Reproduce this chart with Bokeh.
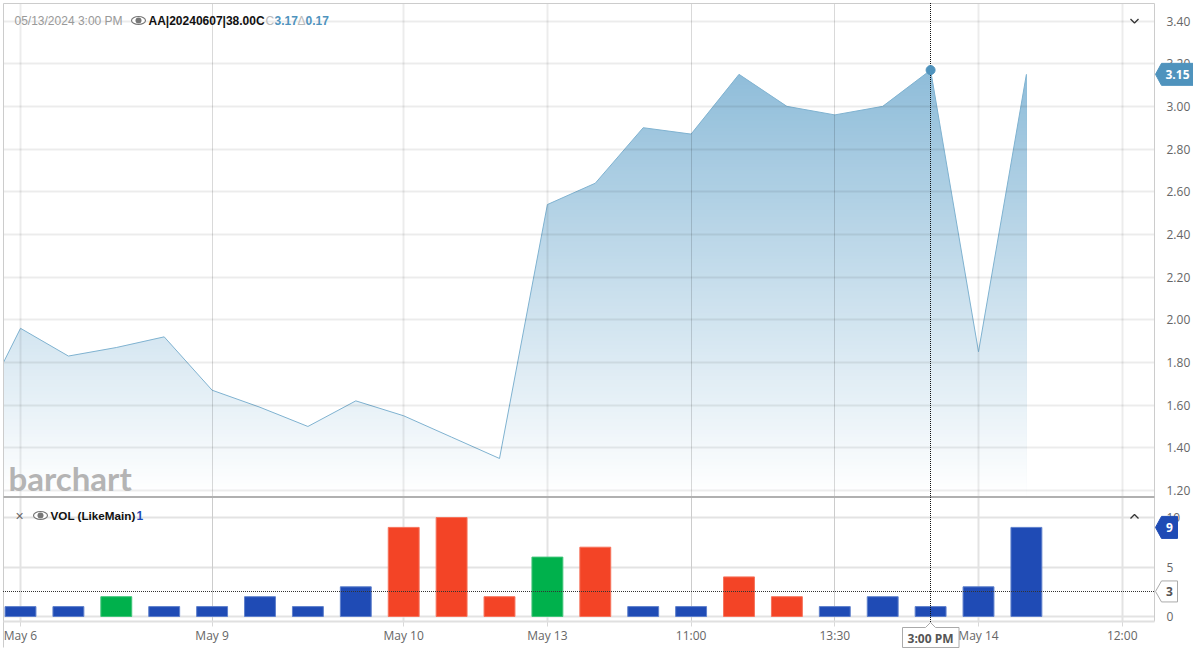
from bokeh.plotting import figure
from bokeh.layouts import column
from bokeh.embed import file_html
from bokeh.resources import INLINE
from bokeh.models import FixedTicker, Grid, Label, ColumnDataSource
import numpy as np

# ---- data -----------------------------------------------------------------
idx = list(range(-1, 22))
price = [1.51, 1.96, 1.83, 1.87, 1.92, 1.67, 1.59, 1.50, 1.62, 1.55, 1.45, 1.35,
         2.54, 2.64, 2.90, 2.87, 3.15, 3.00, 2.96, 3.00, 3.17, 1.85, 3.15]
vol_idx = list(range(0, 22))
volume = [1, 1, 2, 1, 1, 2, 1, 3, 9, 10, 2, 6, 7, 1, 1, 4, 2, 1, 2, 1, 3, 9]
vol_dir = ["b", "b", "g", "b", "b", "b", "b", "b", "r", "r", "r", "g", "r", "b", "b",
           "r", "r", "b", "b", "b", "b", "b"]
x_ticks = [0, 4, 8, 11, 14, 17, 20, 23]
x_labels = ["May 6", "May 9", "May 10", "May 13", "11:00", "13:30", "May 14", "12:00"]
price_ticks = [1.2, 1.4, 1.6, 1.8, 2.0, 2.2, 2.4, 2.6, 2.8, 3.0, 3.2, 3.4]
vol_ticks = [0, 5, 10]
cross_i = 19
cross_price = 3.17
cross_vol = 2.53
last_price = 3.15
last_vol = 9

BLUE = "#4f93bd"
FILL = {"b": "#1f4bb5", "g": "#00b14c", "r": "#f34426"}
EDGE = {"b": "#5f80cc", "g": "#40c479", "r": "#f6735c"}
FONT = "Open Sans"
ARIAL = "Liberation Sans"

# ---- geometry --------------------------------------------------------------
W, H1, H2 = 1193, 497, 158
SPARE = 8  # room under the price panel so that its lowest tick label has space
FL, FR = 3, 1154
XPX = 47.9
x0 = -(20 - FL) / XPX
x1 = (FR - 20) / XPX
YPX = 213.4
y_end = 3.40 + (20.5 - 3) / YPX
y_start = 1.20 - (497 - 490) / YPX
VPX = 9.9
v_end = (616 - 497) / VPX
v_start = -(621 - 616) / VPX


def sx(i):
    return 20 + i * XPX


def sy(val):
    return 20.5 + (3.40 - val) * YPX


def sv(val):
    return 616 - val * VPX


def base(height, border_bottom, y_range, **kw):
    f = figure(width=W, height=height, x_range=(x0, x1), y_range=y_range,
               output_backend="svg", toolbar_location=None, y_axis_location="right",
               min_border_left=FL, min_border_right=W - FR,
               min_border_top=0, min_border_bottom=border_bottom,
               background_fill_color="white", border_fill_color="white", **kw)
    f.xgrid.visible = False
    f.ygrid.visible = False
    ax = f.yaxis[0]
    ax.axis_line_color = None
    ax.major_tick_line_color = None
    ax.minor_tick_line_color = None
    ax.major_tick_in = 0
    ax.major_tick_out = 0
    ax.minor_tick_in = 0
    ax.minor_tick_out = 0
    ax.major_label_text_font = FONT
    ax.major_label_text_font_size = "12px"
    ax.major_label_text_color = "#666666"
    ax.major_label_standoff = 12
    f.outline_line_color = None
    return f


THIN = [4, 14, 17]
WIDE = [t for t in x_ticks if t not in THIN]

# ---- price panel -----------------------------------------------------------
p = base(H1 + SPARE, SPARE, (y_start, y_end), x_axis_location=None)
p.min_border_top = 3
p.yaxis[0].ticker = FixedTicker(ticks=price_ticks)
p.yaxis[0].major_label_overrides = {t: f"{t:.2f}" for t in price_ticks}

levels = np.linspace(y_end, y_start, 140)
tops, bots, cols = [], [], []
for lv in levels:
    a = 0.62 * min(1.0, max(0.0, (lv - 1.2) / (cross_price - 1.2)))
    r = int(round(255 - (255 - 74) * a))
    g_ = int(round(255 - (255 - 148) * a))
    b = int(round(255 - (255 - 194) * a))
    tops.append(lv)
    bots.append(y_start)
    cols.append(f"#{r:02x}{g_:02x}{b:02x}")
p.quad(left=idx[0], right=idx[-1], top=tops, bottom=bots, fill_color=cols, line_color=None)
# white above the curve, plus a strip past the last point so no sliver stays at its edge
p.varea(x=idx, y1=price, y2=[y_end + 1] * len(idx), fill_color="white")
p.quad(left=[idx[-1] - 0.01], right=[idx[-1] + 0.2], top=[y_end + 1], bottom=[price[-1]],
       fill_color="white", line_color=None)
p.line(idx, price, line_color="#7fb2d0", line_width=1)

p.add_layout(Grid(dimension=1, ticker=FixedTicker(ticks=price_ticks), grid_line_color="#000000",
                  grid_line_width=2, grid_line_alpha=0.075, level="overlay"))
p.add_layout(Grid(dimension=0, ticker=FixedTicker(ticks=WIDE), grid_line_color="#000000",
                  grid_line_width=2, grid_line_alpha=0.075, level="overlay"))
p.add_layout(Grid(dimension=0, ticker=FixedTicker(ticks=THIN), grid_line_color="#000000",
                  grid_line_width=1, grid_line_alpha=0.15, level="overlay"))

# ---- volume panel ----------------------------------------------------------
v = base(H2, 34, (v_start, v_end), margin=(-SPARE, 0, 0, 0))
v.yaxis[0].ticker = FixedTicker(ticks=vol_ticks)
xa = v.xaxis[0]
xa.ticker = FixedTicker(ticks=x_ticks)
xa.major_label_overrides = dict(zip(x_ticks, x_labels))
xa.axis_line_color = None
xa.minor_tick_line_color = None
xa.major_tick_line_color = "#d8d8d8"
xa.major_tick_in = 0
xa.major_tick_out = 5
xa.major_label_standoff = 0
xa.major_label_text_font = FONT
xa.major_label_text_font_size = "12px"
xa.major_label_text_color = "#666666"

v.add_layout(Grid(dimension=1, ticker=FixedTicker(ticks=vol_ticks), grid_line_color="#e3e3e3", grid_line_width=2))
v.add_layout(Grid(dimension=0, ticker=FixedTicker(ticks=WIDE), grid_line_color="#e3e3e3", grid_line_width=2))
v.add_layout(Grid(dimension=0, ticker=FixedTicker(ticks=THIN), grid_line_color="#cccccc", grid_line_width=1))

src = ColumnDataSource(dict(x=vol_idx, top=volume,
                            fill=[FILL[d] for d in vol_dir], edge=[EDGE[d] for d in vol_dir]))
v.vbar(x="x", top="top", bottom=0, width=0.645, fill_color="fill", line_color="edge", line_width=1, source=src)

# ---- transparent layer over both panels, in page pixels: tags, headers, frame
o = figure(width=W, height=H1 + H2, x_range=(0, W), y_range=(H1 + H2, 0),
           output_backend="svg", toolbar_location=None, x_axis_location=None, y_axis_location=None,
           min_border_left=0, min_border_right=0, min_border_top=0, min_border_bottom=0,
           background_fill_alpha=0, border_fill_alpha=0, outline_line_color=None,
           margin=(-(H1 + H2), 0, 0, 0))
o.xgrid.visible = False
o.ygrid.visible = False


def label(x, y, text, color, size="12px", font=ARIAL, style="normal", align="left"):
    o.add_layout(Label(x=x, y=y, text=text, text_color=color, text_font=font, text_font_size=size,
                       text_font_style=style, text_align=align, text_baseline="middle"))


def seg(xs, ys, color, width=1.0, dash="solid"):
    o.line(xs, ys, line_color=color, line_width=width, line_dash=dash)


def eye(x, y):
    o.ellipse([x], [y], width=14, height=8, fill_color="white", line_color="#777777", line_width=1.2)
    o.scatter([x], [y], size=6, fill_color="#777777", line_color=None)


# frame
seg([3, 3], [3, 647], "#cccccc")
seg([3, 1154, 1154], [3, 3, 621], "#cccccc")
seg([3, 1154], [621, 621], "#e0e0e0", 2)
seg([3, 1154], [496.5, 496.5], "#b0b0b0", 2)

# crosshair (whole pixels plus half a pixel along the line, so the dots stay crisp)
cx = round(sx(cross_i))
seg([cx, cx], [2.5, 626.5], "#111111", 1, "1 1")
seg([2.5, 1153.5], [round(sv(cross_vol))] * 2, "#333333", 1, "1 1")
o.scatter([sx(cross_i)], [sy(cross_price)], size=9, fill_color=BLUE, line_color=BLUE)

# price header
label(14, 20, "05/13/2024 3:00 PM", "#999999")
eye(138, 20)
label(148, 20, "AA|20240607|38.00C", "#111111", style="bold")
label(265, 20, "C", "#bbbbbb")
label(274, 20, "3.17", BLUE, style="bold")
label(297, 20, "\u0394", "#bbbbbb")
label(305, 20, "0.17", BLUE, style="bold")
label(8, 477, "barchart", "#b4b4b4", "33px", font="Lato", style="bold")
seg([1130, 1134, 1138], [18.5, 22.5, 18.5], "#333333", 1.3)

# volume header
label(15, 515, "\u00d7", "#666666", "14px")
eye(40, 515)
label(50, 515, "VOL (LikeMain)", "#111111", "11.7px", style="bold")
label(136, 515, "1", FILL["b"], style="bold")
seg([1130, 1134, 1138], [518, 514, 518], "#333333", 1.3)


def tag(right, y, half, fill, edge):
    o.patch([1155, 1161, right, right, 1161], [y, y - half, y - half, y + half, y + half],
            fill_color=fill, line_color=edge)


# value tags
lp = sy(last_price)
tag(1193, lp, 11, BLUE, BLUE)
label(1177, lp, f"{last_price:.2f}", "white", font=FONT, style="bold", align="center")
lv_y = sv(last_vol)
tag(1177, lv_y, 11, FILL["b"], FILL["b"])
label(1169, lv_y, str(last_vol), "white", font=FONT, style="bold", align="center")
cv_y = sv(cross_vol)
tag(1177, cv_y, 10.5, "white", "#aaaaaa")
label(1169, cv_y, "3", "#555555", font=FONT, style="bold", align="center")

# crosshair time tag
o.patch([902, 925, 930, 935, 958.5, 958.5, 902], [627, 627, 622, 627, 627, 647, 647],
        fill_color="white", line_color="#aaaaaa")
label(930, 637.5, "3:00 PM", "#555555", font=FONT, style="bold", align="center")

page = column(column(p, v, spacing=0), o, spacing=0)
open("out.html", "w").write(file_html(page, INLINE))
